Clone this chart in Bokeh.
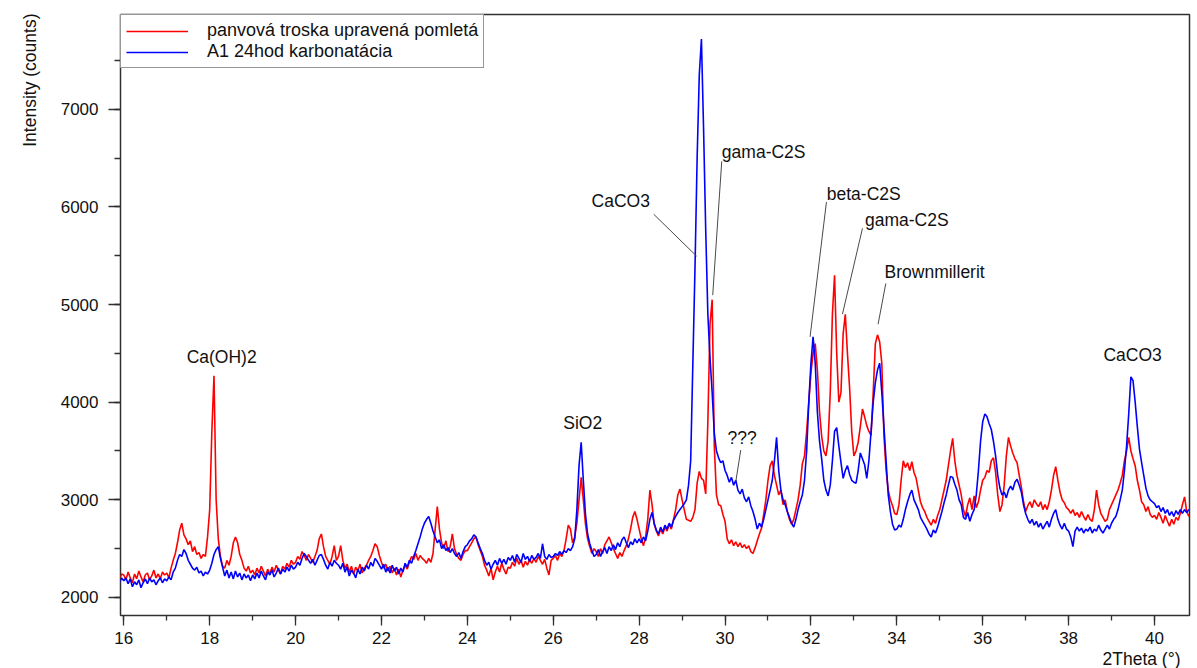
import numpy as np
from bokeh.plotting import figure
from bokeh.models import (Range1d, SingleIntervalTicker, Legend, LegendItem,
                          Title, ColumnDataSource)
from bokeh.core.properties import value
from bokeh.embed import file_html
from bokeh.resources import INLINE

FONT = "Liberation Sans"

# Diffractogram sampling: 2-theta from 15.90 deg in 0.05 deg steps
TWO_THETA_START = 15.90
TWO_THETA_STEP = 0.05

# Intensity (counts) - ladle slag, treated and ground (red)
RED_COUNTS = [
    2190, 2240,
    2230, 2180, 2260, 2200, 2150, 2240, 2190, 2270, 2210, 2160, 2230, 2250, 2180, 2220, 2280, 2200, 2240, 2190, 2260, 2230,  # 16
    2250, 2200, 2300, 2380, 2450, 2560, 2690, 2760, 2640, 2600, 2540, 2580, 2470, 2520, 2440, 2460, 2400, 2440, 2420, 2620,  # 17
    2900, 3700, 4270, 3000, 2600, 2420, 2320, 2300, 2380, 2330, 2420, 2560, 2620, 2560, 2440, 2380, 2300, 2270, 2320, 2250,  # 18
    2280, 2230, 2300, 2250, 2320, 2270, 2220, 2290, 2240, 2310, 2260, 2330, 2280, 2240, 2320, 2290, 2350, 2310, 2380, 2340,  # 19
    2360, 2420, 2390, 2470, 2430, 2380, 2440, 2400, 2360, 2420, 2480, 2600, 2650, 2520, 2420, 2380, 2340, 2420, 2530, 2380,  # 20
    2420, 2530, 2380, 2300, 2340, 2260, 2320, 2240, 2310, 2270, 2340, 2250, 2300, 2330, 2380, 2420, 2480, 2550, 2520, 2430,  # 21
    2360, 2300, 2340, 2270, 2320, 2250, 2300, 2230, 2290, 2210, 2280, 2330, 2290, 2360, 2420, 2390, 2450, 2380, 2430, 2400,  # 22
    2380, 2350, 2400, 2360, 2450, 2700, 2930, 2700, 2560, 2500, 2580, 2470, 2520, 2650, 2500, 2440, 2400, 2380, 2440, 2480,  # 23
    2480, 2520, 2560, 2600, 2620, 2540, 2480, 2420, 2330, 2280, 2220, 2300, 2180, 2260, 2320, 2260, 2350, 2290, 2240, 2310,  # 24
    2300, 2360, 2320, 2400, 2340, 2380, 2310, 2370, 2330, 2390, 2350, 2400, 2360, 2420, 2380, 2340, 2390, 2300, 2230, 2380,  # 25
    2400, 2430, 2380, 2450, 2420, 2480, 2600, 2740, 2700, 2560, 2620, 2760, 3000, 3230, 3000, 2750, 2600, 2520, 2450, 2500,  # 26
    2470, 2420, 2500, 2450, 2540, 2580, 2620, 2560, 2500, 2450, 2400, 2460, 2420, 2480, 2530, 2600, 2700, 2820, 2880, 2800,  # 27
    2700, 2600, 2530, 2620, 2800, 3100, 2950, 2750, 2680, 2630, 2700, 2650, 2720, 2680, 2750, 2700, 2800, 2900, 3050, 3110,  # 28
    3000, 2900, 2800, 2790, 2780, 2820, 2900, 3170, 3290, 3220, 3200, 3060, 3800, 4800, 5050, 3550, 3050, 2950, 2940, 2850,  # 29
    2780, 2600, 2550, 2590, 2530, 2570, 2520, 2560, 2510, 2540, 2500, 2530, 2470, 2450, 2510, 2580, 2650, 2710, 2850, 3000,  # 30
    3200, 3350, 3400, 3250, 3150, 3050, 3100, 2950, 3000, 2880, 2800, 2750, 2800, 2900, 3000, 3150, 3370, 3450, 3700, 4000,  # 31
    4300, 4500, 4600, 4330, 3900, 3650, 3500, 3450, 3600, 4100, 4900, 5300, 4500, 4000, 4100, 4700, 4900, 4500, 4150, 3700,  # 32
    3450, 3500, 3590, 3750, 3930, 3850, 3760, 3700, 3660, 4100, 4600, 4690, 4620, 4400, 3660, 3300, 3100, 3000, 2940, 2860,  # 33
    2850, 2950, 3200, 3400, 3330, 3380, 3300, 3390, 3280, 3220, 3100, 2980, 2920, 2880, 2820, 2780, 2740, 2800, 2760, 2840,  # 34
    2900, 3000, 3100, 3200, 3350, 3500, 3630, 3400, 3250, 3150, 3050, 2900, 2830, 2950, 3020, 2900, 3040, 2920, 2980, 3100,  # 35
    3200, 3230, 3300, 3280, 3400, 3430, 3280, 3050, 2880, 2950, 3150, 3450, 3640, 3550, 3480, 3420, 3380, 3250, 3130, 2980,  # 36
    2880, 2940, 2980, 2920, 3000, 2960, 2930, 2980, 2900, 2950, 2900, 2980, 3100, 3250, 3340, 3200, 3080, 3000, 2970, 2920,  # 37
    2900, 2860, 2900, 2840, 2870, 2820, 2880, 2830, 2790, 2850, 2800, 2780, 2900, 3100, 2950, 2860, 2820, 2780, 2800, 2900,  # 38
    2950, 3000, 3050, 3100, 3170, 3250, 3400, 3500, 3640, 3500, 3420, 3350, 3200, 3100, 2980, 2950, 2880, 2930, 2850, 2820,  # 39
    2840, 2800, 2870, 2820, 2760, 2840, 2780, 2730, 2800, 2750, 2820, 2790, 2860, 2950, 3030, 2880, 2830,                    # 40
]

# Intensity (counts) - A1 after 24 h carbonation (blue)
BLUE_COUNTS = [
    2150, 2200,
    2170, 2200, 2140, 2190, 2110, 2160, 2130, 2180, 2100, 2150, 2190, 2140, 2200, 2160, 2180, 2130, 2170, 2200, 2150, 2190,  # 16
    2170, 2210, 2180, 2260, 2300, 2380, 2440, 2420, 2490, 2450, 2380, 2340, 2300, 2280, 2310, 2250, 2270, 2220, 2260, 2240,  # 17
    2280, 2350, 2440, 2490, 2520, 2400, 2310, 2220, 2280, 2200, 2260, 2190, 2270, 2210, 2250, 2180, 2240, 2200, 2230, 2170,  # 18
    2230, 2190, 2250, 2200, 2270, 2220, 2180, 2260, 2230, 2280, 2210, 2250, 2300, 2240, 2290, 2260, 2310, 2270, 2330, 2290,  # 19
    2310, 2360, 2330, 2400, 2450, 2420, 2380, 2350, 2390, 2330, 2380, 2430, 2440, 2390, 2330, 2290, 2360, 2320, 2380, 2350,  # 20
    2330, 2290, 2350, 2260, 2310, 2220, 2280, 2250, 2200, 2290, 2240, 2310, 2270, 2330, 2290, 2360, 2320, 2400, 2370, 2330,  # 21
    2290, 2340, 2260, 2310, 2250, 2330, 2270, 2310, 2240, 2300, 2260, 2350, 2310, 2380, 2350, 2420, 2480, 2550, 2620, 2700,  # 22
    2760, 2800, 2830, 2760, 2680, 2620, 2560, 2590, 2500, 2540, 2480, 2510, 2460, 2500, 2450, 2420, 2460, 2400, 2470, 2520,  # 23
    2540, 2580, 2600, 2640, 2620, 2560, 2500, 2450, 2380, 2330, 2360, 2290, 2340, 2380, 2330, 2400, 2350, 2390, 2340, 2410,  # 24
    2380, 2430, 2360, 2440, 2400, 2360, 2450, 2390, 2420, 2370, 2430, 2390, 2410, 2450, 2400, 2550, 2420, 2390, 2440, 2410,  # 25
    2420, 2450, 2430, 2470, 2440, 2480, 2460, 2500, 2480, 2520, 2600, 2900, 3350, 3590, 3200, 2850, 2650, 2550, 2480, 2420,  # 26
    2440, 2490, 2420, 2470, 2510, 2450, 2520, 2480, 2540, 2490, 2560, 2520, 2590, 2620, 2560, 2510, 2570, 2540, 2600, 2560,  # 27
    2600, 2560, 2620, 2580, 2680, 2800, 2870, 2760, 2690, 2650, 2720, 2670, 2740, 2700, 2760, 2720, 2790, 2830, 2870, 2900,  # 28
    2930, 2960, 3000, 3150, 3400, 4390, 5370, 6500, 7350, 7720, 6800, 5760, 4900, 4450, 4100, 3680, 3500, 3430, 3380, 3400,  # 29
    3300, 3250, 3180, 3230, 3150, 3200, 3100, 3060, 3110, 3020, 2980, 3030, 2940, 2880, 2800, 2700, 2760, 2720, 2800, 2900,  # 30
    3000, 3100, 3200, 3400, 3640, 3300, 3100, 3000, 2950, 2880, 2820, 2760, 2720, 2800, 2900, 2980, 3050, 3200, 3500, 4000,  # 31
    4400, 4670, 4400, 3900, 3600, 3420, 3200, 3100, 3040, 3150, 3400, 3700, 3740, 3550, 3380, 3220, 3300, 3350, 3260, 3200,  # 32
    3180, 3170, 3300, 3480, 3420, 3360, 3220, 3400, 3700, 4000, 4200, 4330, 4400, 4100, 3750, 3400, 3050, 2880, 2750, 2690,  # 33
    2700, 2740, 2720, 2800, 2900, 2980, 3050, 3100, 3000, 2950, 2900, 2820, 2780, 2740, 2700, 2650, 2620, 2690, 2660, 2720,  # 34
    2800, 2880, 2970, 3050, 3150, 3240, 3230, 3160, 3100, 3000, 2950, 2820, 2800, 2870, 2780, 2850, 2900, 3050, 3300, 3600,  # 35
    3800, 3880, 3850, 3780, 3720, 3600, 3450, 3250, 3120, 3050, 3080, 3020, 3100, 3140, 3100, 3180, 3210, 3150, 3080, 2950,  # 36
    2860, 2800, 2760, 2800, 2740, 2780, 2720, 2760, 2700, 2740, 2780, 2720, 2800, 2860, 2900, 2800, 2740, 2700, 2760, 2700,  # 37
    2680, 2620, 2520, 2680, 2720, 2680, 2710, 2660, 2700, 2680, 2720, 2660, 2700, 2680, 2740, 2690, 2660, 2700, 2740, 2700,  # 38
    2760, 2800, 2830, 2900, 3000, 3100, 3300, 3550, 3880, 4260, 4220, 4000, 3750, 3520, 3380, 3250, 3120, 3040, 3000, 2980,  # 39
    2960, 2920, 2940, 2880, 2920, 2860, 2900, 2840, 2880, 2830, 2890, 2850, 2900, 2860, 2900, 2870, 2900,                    # 40
]

SERIES_NAMES = ["panvová troska upravená pomletá", "A1 24hod karbonatácia"]

# Phase annotations: text, text anchor (2theta, counts)
PEAK_LABELS = ["Ca(OH)2", "SiO2", "CaCO3", "gama-C2S", "???", "beta-C2S",
               "gama-C2S", "Brownmillerit", "CaCO3"]
PEAK_LABEL_X = [18.278, 26.685, 27.570, 30.900, 30.400, 33.229, 34.231, 34.880, 39.490]
PEAK_LABEL_Y = [4462, 3786, 6058, 6559, 3628, 6134, 5863, 5336, 4482]

# Leader lines from labels to peaks
LEADER_X0 = [28.339, 29.923, 30.366, 32.361, 33.200, 33.743]
LEADER_Y0 = [5925, 6467, 3510, 6050, 5781, 5216]
LEADER_X1 = [29.340, 29.713, 30.249, 31.980, 32.734, 33.564]
LEADER_Y1 = [5495, 5096, 3183, 4669, 4902, 4799]

n = len(RED_COUNTS)
two_theta = np.round(TWO_THETA_START + TWO_THETA_STEP * np.arange(n), 2)

p = figure(width=1197, height=668, output_backend="svg", toolbar_location=None,
           title=None,
           x_range=Range1d(15.923, 40.815), y_range=Range1d(1815, 7971),
           min_border_left=120, min_border_right=8,
           min_border_top=14, min_border_bottom=52)
p.background_fill_color = "white"
p.border_fill_color = "white"
p.outline_line_color = "#303030"
p.outline_line_width = 1.5
p.grid.visible = False

AX = "#303030"
p.xaxis.ticker = SingleIntervalTicker(interval=2, num_minor_ticks=2)
p.yaxis.ticker = SingleIntervalTicker(interval=1000, num_minor_ticks=2)
for ax in (p.xaxis[0], p.yaxis[0]):
    ax.axis_line_color = None
    ax.major_tick_line_color = AX
    ax.minor_tick_line_color = AX
    ax.major_tick_line_width = 1.3
    ax.minor_tick_line_width = 1.3
    ax.major_tick_in = 0
    ax.minor_tick_in = 0
    ax.major_label_text_font = FONT
    ax.major_label_text_font_size = "17px"
    ax.major_label_text_color = "#111111"
p.xaxis.major_tick_out = 10
p.xaxis.minor_tick_out = 5
p.xaxis.major_label_standoff = 6
p.yaxis.major_tick_out = 12
p.yaxis.minor_tick_out = 6
p.yaxis.major_label_standoff = 10

# y axis title, at the top end of the left margin
p.add_layout(Title(text="Intensity (counts)", align="right", offset=-1, standoff=32,
                   vertical_align="top",
                   text_font=FONT, text_font_size="17.5px", text_font_style="normal",
                   text_color="#111111"), "left")

# x axis title, right-aligned under the tick labels
p.add_layout(Title(text="2Theta (°)", align="right", offset=9, standoff=0,
                   text_font=FONT, text_font_size="17.5px", text_font_style="normal",
                   text_color="#111111"), "below")

r_red = p.line(two_theta, RED_COUNTS[:n], line_color="#ff0000", line_width=1.6)
r_blue = p.line(two_theta, BLUE_COUNTS[:n], line_color="#0000ff", line_width=1.6)

legend = Legend(items=[LegendItem(label=SERIES_NAMES[0], renderers=[r_red]),
                       LegendItem(label=SERIES_NAMES[1], renderers=[r_blue])],
                location="top_left", margin=0, padding=5, spacing=0,
                glyph_width=62, glyph_height=18, label_height=18,
                label_standoff=19, label_text_font=FONT,
                label_text_font_size="18px", label_text_color="#111111",
                border_line_color="#303030", border_line_width=1.5,
                background_fill_color="white", background_fill_alpha=1.0)
p.add_layout(legend)

# leader lines
p.segment(LEADER_X0, LEADER_Y0, LEADER_X1, LEADER_Y1,
          line_color="#4a4a4a", line_width=1)

# phase labels
lab_src = ColumnDataSource(dict(x=PEAK_LABEL_X, y=PEAK_LABEL_Y, t=PEAK_LABELS))
p.text(x="x", y="y", text="t", source=lab_src, text_font=value(FONT),
       text_font_size="17.5px", text_color="#111111",
       text_align="center", text_baseline="middle")

open("out.html", "w").write(file_html(p, INLINE))
